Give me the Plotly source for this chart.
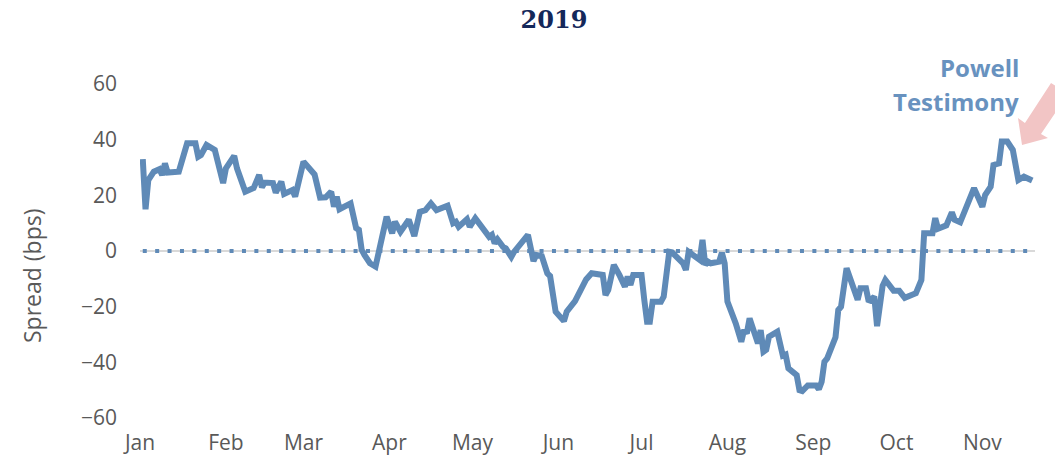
import pandas as pd
import plotly.graph_objects as go

# Daily spread, 2019 (day number counted from 1 Jan, value in bps)
day = [1, 2, 3, 5, 7, 8, 9, 10, 14, 17, 20, 21, 22, 24, 27, 30, 31, 34, 35, 36,
       38, 41, 43, 44, 45, 48, 49, 51, 52, 55, 56, 59, 62, 63, 65, 67, 69, 70, 71, 72,
       76, 78, 79, 80, 81, 83, 85, 86, 89, 91, 92, 94, 97, 99, 101, 103, 105, 107, 111, 113,
       114, 115, 118, 119, 121, 126, 127, 128, 129, 131, 132, 134, 135, 140, 142, 143, 145, 147, 148, 150,
       153, 154, 156, 157, 161, 163, 167, 168, 169, 171, 173, 175, 176, 177, 178, 181, 182, 183, 184, 185,
       188, 189, 191, 192, 196, 197, 198, 200, 202, 203, 204, 205, 206, 209, 210, 211, 212, 215, 217, 218,
       219, 220, 222, 223, 224, 225, 226, 227, 230, 232, 233, 234, 237, 238, 239, 241, 244, 245, 246, 247,
       248, 251, 252, 253, 255, 257, 259, 260, 262, 263, 265, 266, 268, 269, 272, 274, 276, 280, 282, 283,
       286, 287, 288, 291, 293, 294, 296, 301, 304, 305, 307, 308, 310, 311, 313, 315, 317, 319, 322]
spread = [33.0, 15.0, 25.5, 28.5, 29.4, 27.3, 31.5, 28.2, 28.5, 38.7, 38.7, 33.9, 34.5, 38.1, 36.3, 24.4, 29.7, 34.2, 29.7, 27.3,
          21.3, 22.6, 27.3, 22.9, 24.6, 24.4, 21.0, 24.9, 20.5, 21.9, 19.6, 32.1, 29.1, 27.5, 19.2, 19.3, 21.3, 15.9, 19.5, 15.0,
          17.1, 8.2, 7.6, 0.4, -1.4, -4.4, -5.6, -0.8, 12.3, 6.4, 10.5, 6.9, 11.2, 5.4, 14.1, 14.7, 17.1, 14.7, 16.3, 10.0,
          10.5, 8.7, 11.4, 8.7, 11.8, 5.1, 5.8, 2.8, 4.2, 1.5, 1.0, -2.1, -0.3, 5.8, -3.6, -1.4, -1.8, -8.0, -9.0, -21.8,
          -25.2, -21.8, -18.8, -18.0, -10.2, -8.0, -8.6, -15.8, -14.0, -5.0, -8.6, -12.8, -9.2, -12.2, -8.6, -8.6, -17.6, -25.4, -25.4, -18.2,
          -18.2, -16.4, -0.3, -0.5, -4.4, -6.8, -0.3, -2.1, -3.2, 4.0, -5.0, -3.8, -4.4, -3.8, -0.6, -4.4, -18.2, -26.0, -32.6, -28.4,
          -29.6, -24.2, -30.8, -33.2, -28.4, -36.2, -35.5, -30.8, -29.0, -37.6, -37.2, -42.2, -44.6, -50.0, -50.3, -48.3, -48.3, -49.7, -47.0, -39.8,
          -38.6, -31.0, -21.2, -20.0, -6.2, -11.8, -17.5, -13.4, -13.4, -18.2, -16.4, -27.0, -12.5, -10.4, -14.3, -14.3, -16.8, -15.2, -10.4, 6.4,
          6.4, 11.8, 8.0, 9.2, 13.9, 11.2, 10.3, 22.6, 15.9, 20.1, 23.1, 30.9, 31.5, 39.3, 39.3, 36.3, 25.5, 26.7, 25.3]

month_starts = ["2019-01-01", "2019-02-01", "2019-03-01", "2019-04-01", "2019-05-01", "2019-06-01",
                "2019-07-01", "2019-08-01", "2019-09-01", "2019-10-01", "2019-11-01"]
month_labels = ["Jan", "Feb", "Mar", "Apr", "May", "Jun", "Jul", "Aug", "Sep", "Oct", "Nov"]
y_ticks = [-60, -40, -20, 0, 20, 40, 60]

dates = pd.Timestamp("2019-01-01") + pd.to_timedelta(day, unit="D")

LINE = "#5F8AB7"
GREY = "#595959"

# plot area in pixels (left, right, top, bottom)
L, R, T, B = 140, 1035, 84, 418
W_FIG, H_FIG = 1055, 459


def paper(x, y):
    return (x - L) / (R - L), (B - y) / (B - T)


fig = go.Figure()

# dotted zero reference across the series span
fig.add_trace(go.Scatter(
    x=[dates[0], dates[-1]], y=[0, 0], mode="lines",
    line=dict(color=LINE, width=4, dash="4px,8.4px"),
    hoverinfo="skip", showlegend=False,
))

fig.add_trace(go.Scatter(
    x=dates, y=spread, mode="lines",
    line=dict(color=LINE, width=6),
    showlegend=False,
))

fig.update_layout(
    width=W_FIG, height=H_FIG,
    margin=dict(l=L, r=W_FIG - R, t=T, b=H_FIG - B),
    paper_bgcolor="white", plot_bgcolor="white",
    font=dict(family="Open Sans", color=GREY),
    title=dict(
        text="<b>2019</b>", x=554 / W_FIG, xref="container", xanchor="center",
        y=1 - 20 / H_FIG, yref="container", yanchor="middle",
        font=dict(family="DejaVu Serif", size=24, color="#14285A"),
    ),
    xaxis=dict(
        type="date", automargin=False,
        range=["2019-01-01", "2019-11-20"],
        tickvals=month_starts, ticktext=month_labels,
        showgrid=False, showline=False, zeroline=False, ticks="",
        tickfont=dict(size=21, color=GREY),
        ticklabelstandoff=10,
    ),
    yaxis=dict(
        automargin=False,
        range=[-60, 60], tickvals=y_ticks,
        showgrid=False, showline=False, ticks="",
        zeroline=True, zerolinecolor="#D9D9D9", zerolinewidth=2,
        tickfont=dict(size=21, color=GREY),
        ticklabelstandoff=22,
    ),
)

# axis title
tx, ty = paper(32, 276)
fig.add_annotation(
    xref="paper", yref="paper", x=tx, y=ty, xanchor="center", yanchor="middle",
    text="Spread (bps)", textangle=-90, showarrow=False,
    font=dict(family="Open Sans", size=23, color=GREY),
)

# callout text
for label, ycen in [("Powell", 67), ("Testimony", 101)]:
    ax_, ay_ = paper(1021, ycen)
    fig.add_annotation(
        xref="paper", yref="paper", x=ax_, y=ay_,
        xanchor="right", yanchor="middle", showarrow=False,
        text=f"<b>{label}</b>",
        font=dict(family="Open Sans", size=24, color="#6892BF"),
    )

# pink block arrow pointing at the testimony peak
arrow_px = [(1022, 145), (1048, 138), (1041, 134), (1068, 94), (1051, 83), (1025, 123), (1018, 118)]
path = "M " + " L ".join(f"{a:.4f},{b:.4f}" for a, b in (paper(x, y) for x, y in arrow_px)) + " Z"
fig.add_shape(type="path", xref="paper", yref="paper", path=path,
              fillcolor="#F2C5C5", line=dict(width=0), layer="above")

fig.write_html("out.html")
